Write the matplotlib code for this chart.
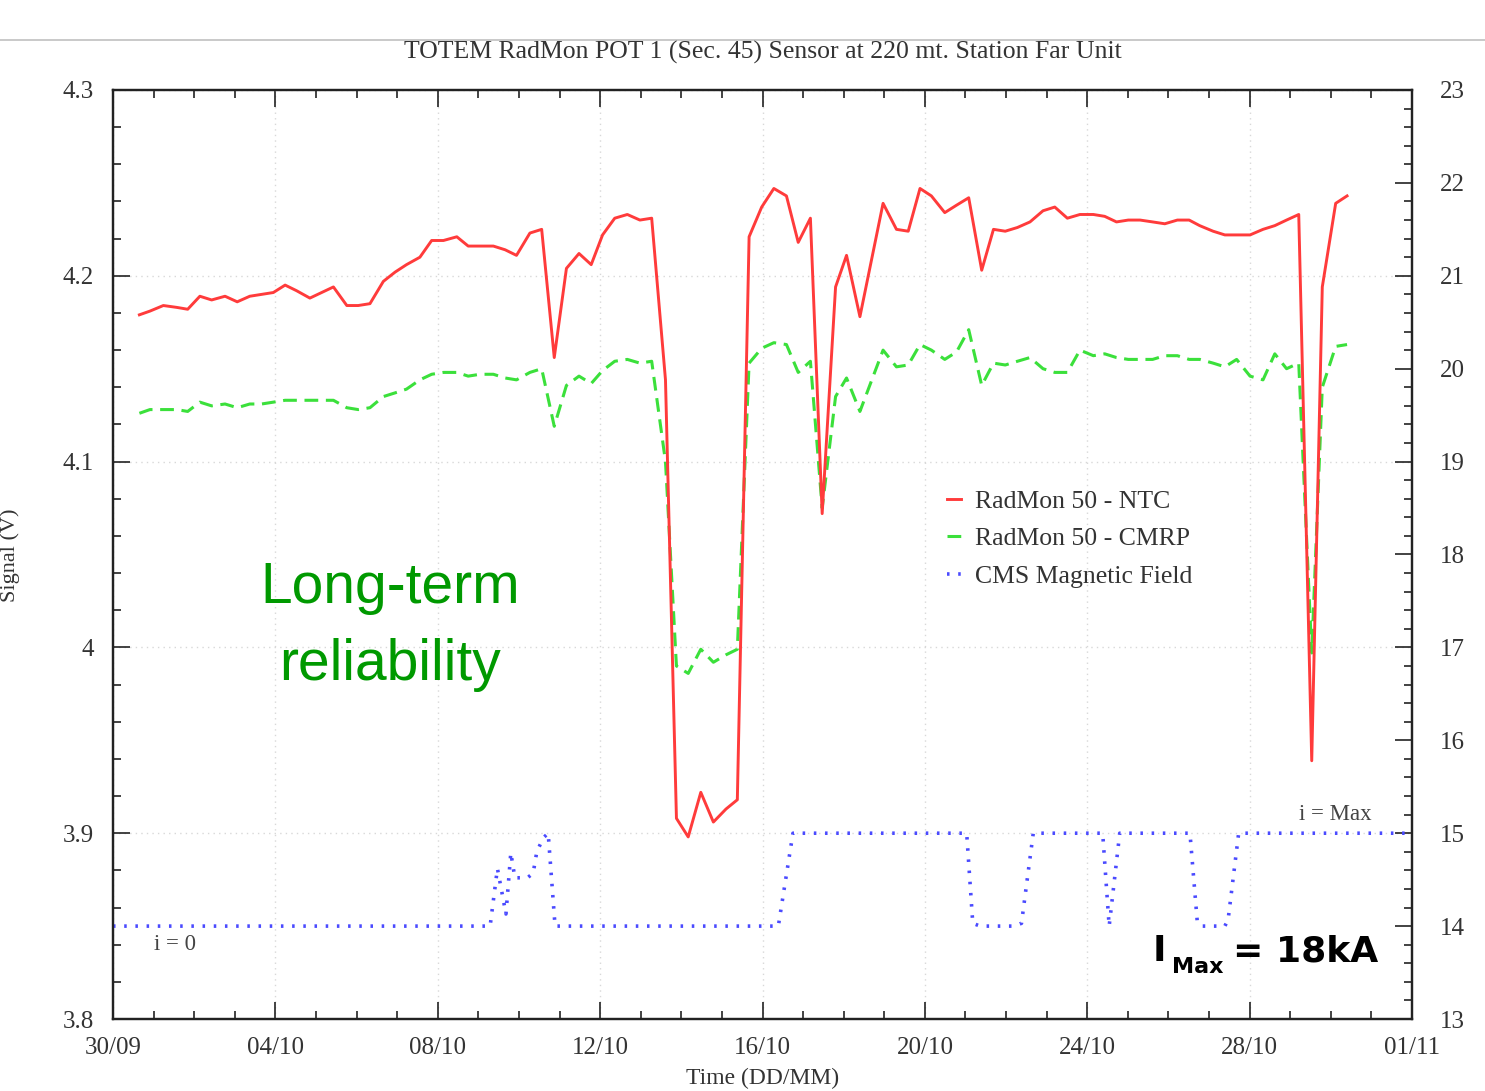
import matplotlib
matplotlib.use("Agg")
import matplotlib.pyplot as plt
from matplotlib.lines import Line2D
from matplotlib.ticker import MultipleLocator

# ---------------- data ----------------
tick_labels = ["30/09", "04/10", "08/10", "12/10", "16/10", "20/10", "24/10", "28/10", "01/11"]
tick_days = [0, 4, 8, 12, 16, 20, 24, 28, 32]
left_ticks = [3.8, 3.9, 4.0, 4.1, 4.2, 4.3]
left_labels = ["3.8", "3.9", "4", "4.1", "4.2", "4.3"]

days = [0.65, 0.91, 1.24, 1.57, 1.84, 2.14, 2.43, 2.76, 3.06, 3.37, 3.66, 3.95,
        4.24, 4.52, 4.85, 5.14, 5.43, 5.76, 6.04, 6.33, 6.66, 6.95, 7.23, 7.56,
        7.85, 8.14, 8.47, 8.75, 9.04, 9.37, 9.66, 9.94, 10.27, 10.56, 10.87, 11.17,
        11.48, 11.78, 12.06, 12.36, 12.67, 12.98, 13.27, 13.61, 13.88, 14.17, 14.48, 14.79,
        15.10, 15.38, 15.67, 15.98, 16.28, 16.59, 16.88, 17.18, 17.47, 17.80, 18.07, 18.40,
        18.97, 19.30, 19.59, 19.88, 20.16, 20.49, 20.78, 21.08, 21.40, 21.69, 21.98, 22.28,
        22.59, 22.91, 23.20, 23.51, 23.82, 24.15, 24.43, 24.72, 25.01, 25.30, 25.61, 25.91,
        26.22, 26.51, 26.77, 27.10, 27.39, 27.68, 28.01, 28.33, 28.62, 28.91, 29.21, 29.53,
        29.79, 30.12, 30.40]

ntc = [4.179, 4.181, 4.184, 4.183, 4.182, 4.189, 4.187, 4.189, 4.186, 4.189, 4.190, 4.191,
       4.195, 4.192, 4.188, 4.191, 4.194, 4.184, 4.184, 4.185, 4.197, 4.202, 4.206, 4.210,
       4.219, 4.219, 4.221, 4.216, 4.216, 4.216, 4.214, 4.211, 4.223, 4.225, 4.156, 4.204,
       4.212, 4.206, 4.222, 4.231, 4.233, 4.230, 4.231, 4.144, 3.908, 3.898, 3.922, 3.906,
       3.913, 3.918, 4.221, 4.237, 4.247, 4.243, 4.218, 4.231, 4.072, 4.194, 4.211, 4.178,
       4.239, 4.225, 4.224, 4.247, 4.243, 4.234, 4.238, 4.242, 4.203, 4.225, 4.224, 4.226,
       4.229, 4.235, 4.237, 4.231, 4.233, 4.233, 4.232, 4.229, 4.230, 4.230, 4.229, 4.228,
       4.230, 4.230, 4.227, 4.224, 4.222, 4.222, 4.222, 4.225, 4.227, 4.230, 4.233, 3.939,
       4.194, 4.239, 4.243]

cmrp = [4.126, 4.128, 4.128, 4.128, 4.127, 4.132, 4.130, 4.131, 4.129, 4.131, 4.131, 4.132,
        4.133, 4.133, 4.133, 4.133, 4.133, 4.129, 4.128, 4.129, 4.135, 4.137, 4.139, 4.144,
        4.147, 4.148, 4.148, 4.146, 4.147, 4.147, 4.145, 4.144, 4.148, 4.150, 4.119, 4.141,
        4.146, 4.142, 4.149, 4.154, 4.155, 4.153, 4.154, 4.100, 3.990, 3.986, 3.999, 3.992,
        3.996, 3.999, 4.153, 4.161, 4.164, 4.163, 4.148, 4.154, 4.075, 4.135, 4.145, 4.127,
        4.160, 4.151, 4.152, 4.163, 4.160, 4.155, 4.159, 4.171, 4.141, 4.153, 4.152, 4.154,
        4.156, 4.150, 4.148, 4.148, 4.160, 4.157, 4.158, 4.156, 4.155, 4.155, 4.155, 4.157,
        4.157, 4.155, 4.155, 4.153, 4.151, 4.155, 4.146, 4.144, 4.158, 4.150, 4.153, 3.997,
        4.140, 4.162, 4.163]

field_days = [0, 9.29, 9.47, 9.68, 9.80, 9.90, 10.21, 10.35, 10.44, 10.60, 10.72, 10.89,
              16.39, 16.75, 21.03, 21.18, 21.36, 22.18, 22.38, 22.67, 24.38, 24.54, 24.80,
              26.53, 26.71, 26.82, 27.39, 27.47, 27.73, 32]
field_vals = [14, 14, 14.62, 14.13, 14.79, 14.52, 14.52, 14.57, 14.80, 14.95, 15.0, 14.0,
              14.0, 15.0, 15.0, 14.03, 14.0, 14.0, 14.03, 15.0, 15.0, 14.0, 15.0,
              15.0, 14.05, 14.0, 14.0, 14.07, 15.0, 15.0]

# ---------------- figure ----------------
W, H = 1485, 1091
fig = plt.figure(figsize=(W / 100, H / 100), dpi=100)
serif = ["Liberation Serif", "DejaVu Serif"]

ax = fig.add_axes([113 / W, 1 - 1019 / H, (1412 - 113) / W, (1019 - 90) / H])
ax2 = ax.twinx()

red, green, blue = "#ff3b3b", "#3be03b", "#4a4aff"
l1, = ax.plot(days, ntc, color=red, lw=2.1, label="RadMon 50 - NTC", zorder=3)
l2, = ax.plot(days, cmrp, color=green, lw=2.2, linestyle=(0, (4.5, 2.5)),
              label="RadMon 50 - CMRP", zorder=2)
l3, = ax2.plot(field_days, field_vals, color=blue, lw=2.6, linestyle=(0, (0.7, 2.4)),
               label="CMS Magnetic Field")

ax.set_xlim(0, 32)
ax.set_ylim(3.8, 4.3)
ax2.set_ylim(13, 23)

ax.set_xticks(tick_days)
ax.set_xticklabels(tick_labels)
ax.xaxis.set_minor_locator(MultipleLocator(1))
ax.set_yticks(left_ticks)
ax.set_yticklabels(left_labels)
ax.yaxis.set_minor_locator(MultipleLocator(0.02))
ax2.yaxis.set_major_locator(MultipleLocator(1))
ax2.yaxis.set_minor_locator(MultipleLocator(0.2))

for a in (ax, ax2):
    for s in a.spines.values():
        s.set_linewidth(1.6)
        s.set_color("#222222")

ax.tick_params(which="both", direction="in", top=True, bottom=True, left=True, right=False,
               colors="#222222", labelcolor="#333333", labelsize=18, width=1.2)
ax.tick_params(axis="x", which="major", pad=13)
ax.tick_params(axis="y", which="major", pad=14)
ax.tick_params(which="major", length=12)
ax.tick_params(which="minor", length=6)
ax2.tick_params(which="both", direction="in", right=True, left=False, colors="#222222",
                labelcolor="#333333", labelsize=18, pad=20, width=1.2)
ax2.tick_params(which="major", length=12)
ax2.tick_params(which="minor", length=6)
for lab in ax.get_xticklabels() + ax.get_yticklabels() + ax2.get_yticklabels():
    lab.set_family(serif)

ax.grid(True, which="major", linestyle=(0, (1, 3)), color="#d8d8d8", lw=1.0)
ax.set_axisbelow(True)

# legend
leg = ax.legend(handles=[l1, l2, l3], loc="upper left", bbox_to_anchor=(0.624, 0.594),
                frameon=False, handlelength=0.55, handletextpad=0.55, labelspacing=0.55,
                prop={"family": serif, "size": 18.5})
for t in leg.get_texts():
    t.set_color("#333333")

# annotations
ax2.text(1.0, 13.8, "i = 0", family=serif, fontsize=16.5, color="#444444", va="center")
ax2.text(31.0, 15.2, "i = Max", family=serif, fontsize=16.5, color="#444444", va="center", ha="right")

# titles / labels
fig.text(763 / W, 1 - 52 / H, "TOTEM RadMon POT 1 (Sec. 45) Sensor at 220 mt. Station Far Unit",
         family=serif, fontsize=18.5, color="#333333", ha="center", va="center")
fig.text(763 / W, 1 - 1078 / H, "Time (DD/MM)", family=serif, fontsize=17, color="#333333",
         ha="center", va="center")
fig.text(10 / W, 1 - 555 / H, "Signal (V)", family=serif, fontsize=16, color="#333333",
         ha="center", va="center", rotation=90)

green_txt = ["Liberation Sans Narrow", "Liberation Sans", "DejaVu Sans"]
fig.text(390 / W, 1 - 588 / H, "Long-term", family=green_txt,
         fontsize=41, color="#009900", ha="center", va="center")
fig.text(390 / W, 1 - 665 / H, "reliability", family=green_txt,
         fontsize=41, color="#009900", ha="center", va="center")

bold = ["DejaVu Sans"]
fig.text(1153 / W, 1 - 951 / H, "I", family=bold, weight="bold", fontsize=26,
         color="black", ha="left", va="center")
fig.text(1172 / W, 1 - 967 / H, "Max", family=bold, weight="bold", fontsize=16,
         color="black", ha="left", va="center")
fig.text(1378 / W, 1 - 951 / H, "= 18kA", family=bold, weight="bold", fontsize=26,
         color="black", ha="right", va="center")

# slide separator line at top
fig.add_artist(Line2D([0, 1], [1 - 40 / H, 1 - 40 / H], transform=fig.transFigure,
                      color="#c0c0c0", lw=1.2))

fig.savefig("out.png", dpi=100, facecolor="white")
